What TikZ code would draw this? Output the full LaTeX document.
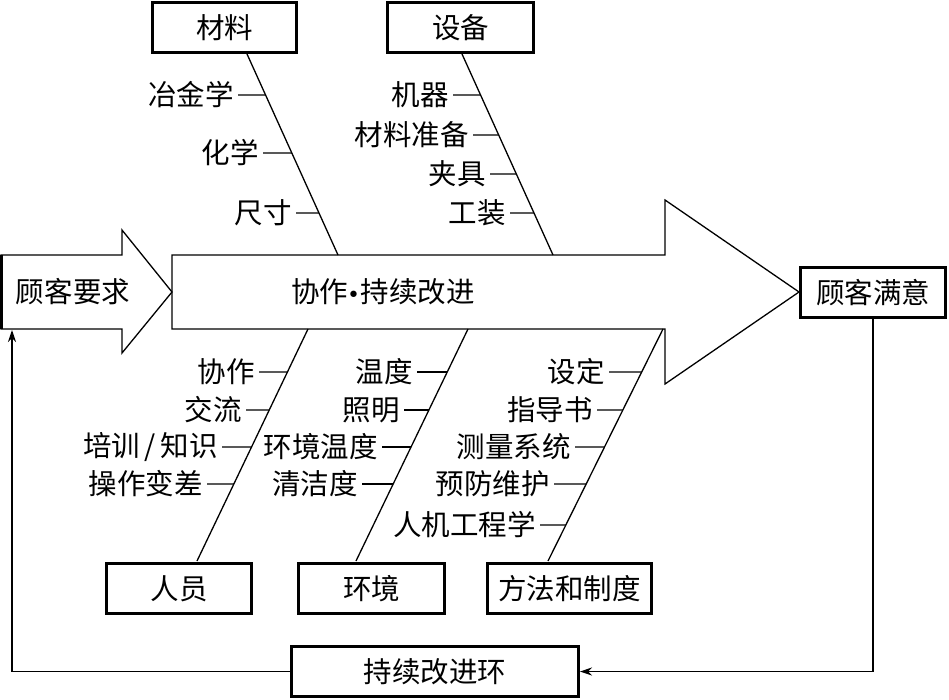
\documentclass[tikz,border=0pt]{standalone}
\usepackage{fontspec}
\newfontfamily\cjk{Noto Sans CJK SC}
\usetikzlibrary{arrows.meta,calc}
\newcommand\myrib[6]{%
  \coordinate (#1e) at (intersection of #2--#3 and 0,#4--949,#4);
  \node[lbl] (#1) at (#5,#4) {#6};
  \draw[thinline] (#1.east) -- (#1e);
}
\begin{document}
\begin{tikzpicture}[x=1pt,y=-1pt,
  every node/.style={font=\cjk\fontsize{28.5}{30}\selectfont},
  thinline/.style={line width=1.3pt},
  catbox/.style={draw,line width=3pt,inner sep=0pt,minimum height=50pt},
  lbl/.style={anchor=east,inner sep=4pt},
  fb/.style={thinline,-{Stealth[length=12pt,width=8pt]}}]
\useasboundingbox (0,0) rectangle (949,700);
% arrows
\draw[thinline,line join=miter] (1,255) -- (122,255) -- (122,230) -- (172,292) -- (122,353) -- (122,329) -- (1,329) -- cycle;
\draw[line width=3pt] (1.5,255) -- (1.5,329);
\draw[thinline,line join=miter] (172,255) -- (665,255) -- (665,200) -- (799,292) -- (665,384) -- (665,329) -- (172,329) -- cycle;
\node (req) at (73,292) {顾客要求};
\node (main) at (383,292) {协作{\fontspec{DejaVu Sans}\fontsize{22}{24}\selectfont\kern-1pt•\kern1pt}持续改进};
% boxes
\node[catbox,minimum width=144pt] (mat) at (224.5,28) {材料};
\node[catbox,minimum width=146pt] (equ) at (460.5,28) {设备};
\node[catbox,minimum width=145pt] (sat) at (873,292.5) {顾客满意};
\node[catbox,minimum width=145pt] (per) at (179,588.5) {人员};
\node[catbox,minimum width=146pt] (env) at (371.5,588.5) {环境};
\node[catbox,minimum width=164pt] (met) at (569.5,588.5) {方法和制度};
\node[catbox,minimum width=287pt] (loop) at (435,671.5) {持续改进环};
% bones
\coordinate (b1t) at (247,54);  \coordinate (b1b) at (338,255);
\coordinate (b2t) at (462,54);  \coordinate (b2b) at (553,255);
\coordinate (b3t) at (308,329); \coordinate (b3b) at (197,561);
\coordinate (b4t) at (468,329); \coordinate (b4b) at (356,561);
\coordinate (b5t) at (663,329); \coordinate (b5b) at (548,561);
\foreach \i in {1,...,5} {\draw[thinline] (b\i t) -- (b\i b);}
% ribs
\myrib{m1}{b1t}{b1b}{95}{238}{冶金学}
\myrib{m2}{b1t}{b1b}{153}{263}{化学}
\myrib{m3}{b1t}{b1b}{213}{296}{尺寸}
\myrib{e1}{b2t}{b2b}{95}{453}{机器}
\myrib{e2}{b2t}{b2b}{135}{473}{材料准备}
\myrib{e3}{b2t}{b2b}{174}{490}{夹具}
\myrib{e4}{b2t}{b2b}{213}{510}{工装}
\myrib{p1}{b3t}{b3b}{372}{259}{协作}
\myrib{p2}{b3t}{b3b}{410}{246}{交流}
\myrib{p3}{b3t}{b3b}{447}{222}{培训\,/\,知识}
\myrib{p4}{b3t}{b3b}{484}{207}{操作变差}
\myrib{v1}{b4t}{b4b}{372}{417}{温度}
\myrib{v2}{b4t}{b4b}{410}{404}{照明}
\myrib{v3}{b4t}{b4b}{447}{382}{环境温度}
\myrib{v4}{b4t}{b4b}{484}{362}{清洁度}
\myrib{t1}{b5t}{b5b}{372}{609}{设定}
\myrib{t2}{b5t}{b5b}{410}{597}{指导书}
\myrib{t3}{b5t}{b5b}{447}{575}{测量系统}
\myrib{t4}{b5t}{b5b}{484}{554}{预防维护}
\myrib{t5}{b5t}{b5b}{525}{540}{人机工程学}
% feedback loop
\coordinate (lc) at (12,671.5);
\coordinate (la) at (12,330);
\draw[fb] (sat.south) -- (sat.south |- loop.east) -- (loop.east);
\draw[fb] (loop.west) -- (lc) -- (la);
\end{tikzpicture}
\end{document}
